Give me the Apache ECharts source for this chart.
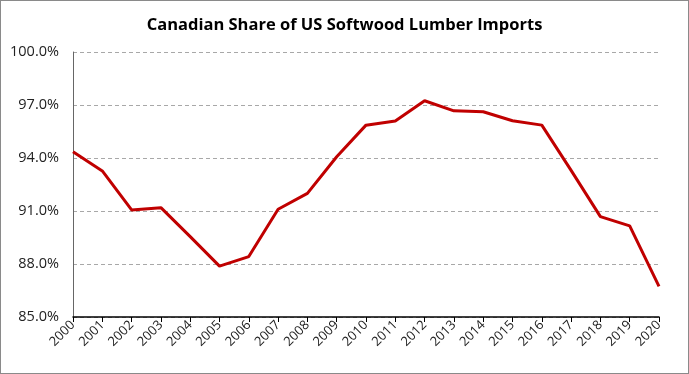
<!DOCTYPE html>
<html><head><meta charset="utf-8">
<script src="https://cdn.jsdelivr.net/npm/echarts@6/dist/echarts.min.js"></script>
<style>html,body{margin:0;padding:0;background:#fff}#c{width:689px;height:374px;box-sizing:border-box;border:1px solid #8a8a8a}</style>
</head><body><div id="c"></div>
<script>
const years = ['2000','2001','2002','2003','2004','2005','2006','2007','2008','2009','2010','2011','2012','2013','2014','2015','2016','2017','2018','2019','2020'];
const share = [94.36,93.27,91.06,91.19,89.55,87.88,88.42,91.1,92.0,94.07,95.86,96.09,97.24,96.67,96.62,96.11,95.86,93.3,90.68,90.16,86.73];
const yMin = 85, yMax = 100, yStep = 3;
const chart = echarts.init(document.getElementById('c'), null, {renderer:'canvas'});
chart.setOption({
  animation:false,
  title:{text:'Canadian Share of US Softwood Lumber Imports', left:'center', top:11,
    textStyle:{fontFamily:'Open Sans', fontWeight:'bold', fontSize:16.5, color:'#000'}},
  grid:{left:72, right:29, top:51, bottom:56, containLabel:false},
  xAxis:{type:'category', data:years, boundaryGap:false,
    axisLine:{lineStyle:{color:'#000', width:1.5}},
    axisTick:{show:true, length:5, lineStyle:{color:'#000'}},
    axisLabel:{rotate:45, fontFamily:'Open Sans', fontSize:13, color:'#222', margin:6}},
  yAxis:{type:'value', min:yMin, max:yMax, interval:yStep,
    axisLine:{show:true, lineStyle:{color:'#666', width:1}},
    axisTick:{show:false},
    axisLabel:{formatter:v=>v.toFixed(1)+'%', fontFamily:'Open Sans', fontSize:14.5, color:'#222', margin:14},
    splitLine:{show:true, lineStyle:{color:'#a8a8a8', type:[4,3], width:1}}},
  series:[{type:'line', data:share, symbol:'none', lineStyle:{color:'#C00000', width:3}}]
});
</script></body></html>
